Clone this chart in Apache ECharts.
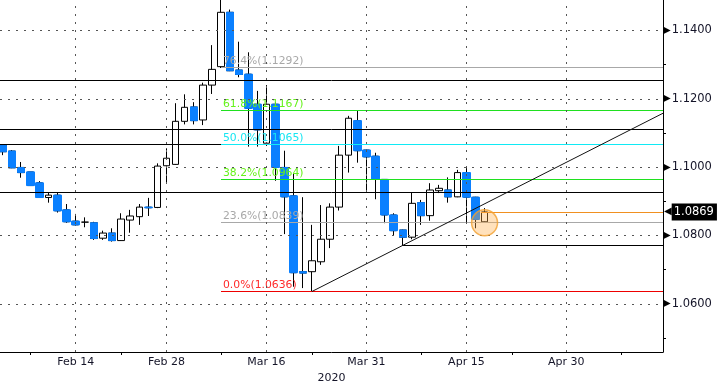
<!DOCTYPE html>
<html>
<head>
<meta charset="utf-8">
<script src="https://cdn.jsdelivr.net/npm/echarts@6/dist/echarts.min.js"></script>
<style>
html,body{margin:0;padding:0;background:#fff;}
#c{width:720px;height:389px;}
</style>
</head>
<body>
<div id="c"></div>
<script>
// ---- data (EUR/USD daily, trading-day index 0 = Feb 4 2020) ----
const days = ['Feb 4','Feb 5','Feb 6','Feb 7','Feb 10','Feb 11','Feb 12','Feb 13','Feb 14','Feb 17','Feb 18','Feb 19','Feb 20','Feb 21','Feb 24','Feb 25','Feb 26','Feb 27','Feb 28','Mar 2','Mar 3','Mar 4','Mar 5','Mar 6','Mar 9','Mar 10','Mar 11','Mar 12','Mar 13','Mar 16','Mar 17','Mar 18','Mar 19','Mar 20','Mar 23','Mar 24','Mar 25','Mar 26','Mar 27','Mar 30','Mar 31','Apr 1','Apr 2','Apr 3','Apr 6','Apr 7','Apr 8','Apr 9','Apr 10','Apr 13','Apr 14','Apr 15','Apr 16','Apr 17'];
const open  = [1.1063,1.1047,1.0999,1.0986,1.0954,1.0911,1.0918,1.0875,1.0842,1.0839,1.0837,1.0792,1.0807,1.0785,1.0845,1.0855,1.0883,1.0882,1.1004,1.1008,1.1134,1.1176,1.1138,1.1240,1.1294,1.1453,1.1284,1.1272,1.1184,1.1070,1.1184,1.0999,1.0916,1.0694,1.0694,1.0723,1.0789,1.0883,1.1035,1.1136,1.1050,1.1032,1.0964,1.0860,1.0816,1.0795,1.0896,1.0858,1.0931,1.0933,1.0913,1.0984,1.0912,1.0840];
const close = [1.1045,1.0998,1.0984,1.0946,1.0911,1.0918,1.0872,1.0840,1.0831,1.0839,1.0791,1.0807,1.0785,1.0848,1.0857,1.0883,1.0881,1.1003,1.1026,1.1134,1.1175,1.1136,1.1240,1.1286,1.1453,1.1282,1.1271,1.1172,1.1109,1.1184,1.0999,1.0913,1.0691,1.0690,1.0726,1.0789,1.0883,1.1035,1.1143,1.1048,1.1030,1.0964,1.0860,1.0814,1.0795,1.0894,1.0858,1.0933,1.0938,1.0913,1.0984,1.0912,1.0847,1.0869];
const low   = [1.1035,1.0997,1.0969,1.0945,1.0910,1.0896,1.0867,1.0837,1.0829,1.0824,1.0787,1.0787,1.0782,1.0784,1.0808,1.0831,1.0857,1.0880,1.0953,1.1007,1.1125,1.1125,1.1123,1.1214,1.1290,1.1281,1.1263,1.1060,1.1060,1.1062,1.0960,1.0804,1.0650,1.0646,1.0636,1.0714,1.0763,1.0873,1.0984,1.1013,1.0928,1.0906,1.0836,1.0799,1.0771,1.0789,1.0831,1.0843,1.0924,1.0896,1.0912,1.0836,1.0821,1.0838];
const high  = [1.1064,1.1050,1.1015,1.0986,1.0959,1.0925,1.0926,1.0892,1.0863,1.0853,1.0840,1.0814,1.0821,1.0865,1.0875,1.0892,1.0910,1.1011,1.1055,1.1187,1.1213,1.1190,1.1247,1.1357,1.1495,1.1461,1.1367,1.1336,1.1223,1.1240,1.1190,1.1048,1.0980,1.0912,1.0831,1.0889,1.0894,1.1062,1.1150,1.1165,1.1051,1.1042,1.0965,1.0865,1.0817,1.0925,1.0904,1.0953,1.0948,1.0970,1.0992,1.0997,1.0913,1.0880];

const xMajorIdx   = [8, 18, 29, 40, 51, 62];
const xMajorLabel = ['Feb 14','Feb 28','Mar 16','Mar 31','Apr 15','Apr 30'];
const xMinorIdx   = [3, 13, 24, 34, 46, 56, 68];
const yMajor = [1.06, 1.08, 1.10, 1.12, 1.14];
const yMinor = [1.05, 1.07, 1.09, 1.11, 1.13];

const fibPct = ['76.4%','61.8%','50.0%','38.2%','23.6%','0.0%'];
const fibVal = [1.1292, 1.1167, 1.1065, 1.0964, 1.0839, 1.0636];
const fibStartIdx = 24;

const blackLevels = [1.1252, 1.1111, 1.1065, 1.0926];
const supportLevel = 1.0771, supportStartIdx = 44;
const lastPrice = 1.0869, lastPriceStartIdx = 52.6;
const trendA = [34, 1.0636], trendB = [44, 1.0771];
const circlePt = [53, 1.0837];

const year = '2020';

// ---- view ----
const xMin = -0.33, xMax = 72.64;
const yMin = 1.0459, yMax = 1.1489;
const FONT = 'DejaVu Sans';
const BLUE = '#0a80ff';

const fibLineColor = ['#a8a8a8','#1fe01f','#10eaf5','#1fe01f','#a8a8a8','#ee0000'];
const fibTextColor = ['#a8a8a8','#66f21a','#18e6f2','#66f21a','#a8a8a8','#ff2a2a'];

// horizontal level segments (drawn through the axes' scales)
const levelItems = [].concat(
  blackLevels.map(v => ({x0: xMin, x1: xMax, v, color: '#000'})),
  [{x0: supportStartIdx, x1: xMax, v: supportLevel, color: '#000'}],
  fibVal.map((v, k) => ({x0: fibStartIdx, x1: xMax, v, color: fibLineColor[k],
                         label: fibPct[k] + '(' + v.toFixed(4) + ')', labelColor: fibTextColor[k]}))
);

const candleData = days.map((d,i)=>[i, open[i], close[i], low[i], high[i]]);
const downData = days.map((d,i)=> open[i] > close[i] ? [i, open[i], close[i], close[i], open[i]] : [i, '-', '-', '-', '-']);

const slope = (trendB[1]-trendA[1])/(trendB[0]-trendA[0]);
const trendData = [trendA, [xMax, trendA[1] + slope*(xMax-trendA[0])]];

const option = {
  animation: false,
  grid: {left: 0, right: 57, top: 0, bottom: 37, containLabel: false, outerBoundsMode: 'none'},
  xAxis: {
    type: 'value', min: xMin, max: xMax,
    axisLine: {show: true, onZero: false, lineStyle: {color: '#000', width: 1}},
    axisTick: {show: true, customValues: xMinorIdx, length: 3, lineStyle: {color: '#000'}},
    axisLabel: {customValues: xMajorIdx, margin: 5, color: '#141428', fontFamily: FONT, fontSize: 11,
      formatter: v => xMajorLabel[xMajorIdx.indexOf(Math.round(v))] || ''},
    splitLine: {show: false},
    name: year, nameLocation: 'middle', nameGap: 19,
    nameTextStyle: {color: '#141428', fontFamily: FONT, fontSize: 11}
  },
  yAxis: {
    type: 'value', position: 'right', min: yMin, max: yMax,
    axisLine: {show: true, onZero: false, lineStyle: {color: '#000', width: 1}},
    axisTick: {show: true, customValues: yMinor, length: 3, lineStyle: {color: '#000'}},
    axisLabel: {customValues: yMajor, margin: 0, color: '#141428', fontFamily: FONT, fontSize: 11,
      formatter: v => '{a|\u25B6}{b|' + v.toFixed(4) + '}',
      rich: {a: {fontSize: 10, color: '#000', fontFamily: FONT, padding: [0, 1, 0, 0]},
             b: {fontSize: 11.5, color: '#141428', fontFamily: FONT}}},
    splitLine: {show: false}
  },
  series: [
    { // dotted grid
      type: 'line', data: [], z: 1, silent: true,
      markLine: {silent: true, symbol: ['none','none'], animation: false, precision: 6,
        lineStyle: {color: '#555', width: 1, type: [2, 6]}, label: {show: false},
        data: yMajor.map(v => ({yAxis: v})).concat(xMajorIdx.map(v => ({xAxis: v})))}
    },
    {
      type: 'candlestick', z: 2, barWidth: 7, data: candleData,
      encode: {x: 0, y: [1, 2, 3, 4]},
      itemStyle: {color: '#fff', color0: BLUE, borderColor: '#000', borderColor0: '#000', borderWidth: 1}
    },
    {
      type: 'candlestick', z: 3, barWidth: 8, data: downData,
      encode: {x: 0, y: [1, 2, 3, 4]},
      itemStyle: {color: BLUE, color0: BLUE, borderColor: BLUE, borderColor0: BLUE, borderWidth: 1}
    },
    { // horizontal levels, fibonacci lines and labels
      type: 'custom', z: 4, silent: true, clip: false,
      data: levelItems.map((o, i) => [o.x0, o.x1, o.v, i]),
      encode: {x: [0, 1], y: 2},
      renderItem: (params, api) => {
        const o = levelItems[api.value(3)];
        const p0 = api.coord([api.value(0), api.value(2)]);
        const p1 = api.coord([api.value(1), api.value(2)]);
        const y = Math.round(p0[1] - 0.5) + 0.5;
        const children = [{type: 'line', shape: {x1: Math.round(p0[0]), y1: y, x2: Math.round(p1[0]), y2: y},
                           style: {stroke: o.color, lineWidth: 1}}];
        if (o.label) {
          children.push({type: 'text', x: Math.round(p0[0]) + 2, y: y - 1,
            style: {text: o.label, fill: o.labelColor, fontFamily: FONT, fontSize: 10.8, verticalAlign: 'bottom', align: 'left'}});
        }
        return {type: 'group', children};
      }
    },
    { // last price line and tag
      type: 'line', data: [], z: 4, silent: true,
      markLine: {silent: true, symbol: ['none','none'], animation: false, precision: 6,
        data: [[{coord: [lastPriceStartIdx, lastPrice], lineStyle: {color: '#f09020', width: 1, type: 'solid'},
                 label: {show: true, position: 'end', distance: 1,
                         formatter: '{a|\u25C0}{b|' + lastPrice.toFixed(4) + '}',
                         rich: {a: {fontSize: 10, color: '#000', fontFamily: FONT},
                                b: {fontSize: 11.5, color: '#fff', backgroundColor: '#000', fontFamily: FONT, padding: [3, 3, 2, 2]}}}},
                {coord: [xMax, lastPrice]}]]}
    },
    {
      type: 'line', z: 5, data: trendData, symbol: 'none', silent: true,
      lineStyle: {color: '#111', width: 1}
    },
    {
      type: 'scatter', z: 6, data: [circlePt], symbolSize: 26, silent: true,
      itemStyle: {color: 'rgba(255,172,70,0.45)', borderColor: '#f3a030', borderWidth: 1.5}
    }
  ]
};
const chart = echarts.init(document.getElementById('c'), null, {renderer: 'canvas'});
chart.setOption(option);
</script>
</body>
</html>
